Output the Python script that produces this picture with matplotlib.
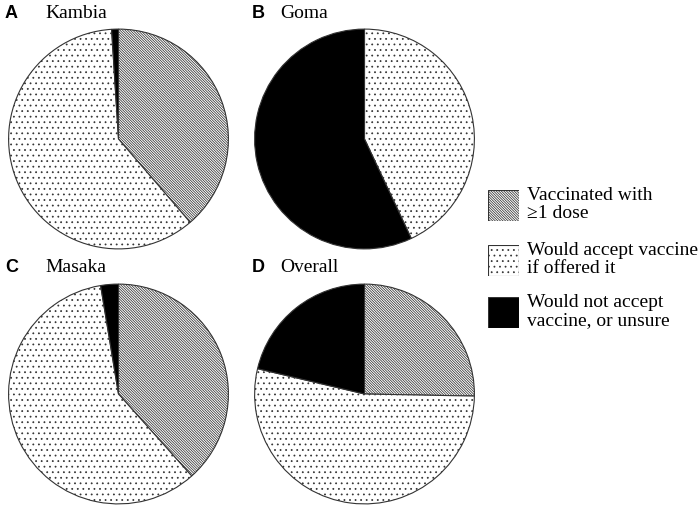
import matplotlib
matplotlib.use("Agg")
import matplotlib.pyplot as plt

plt.rcParams['hatch.linewidth'] = 0.55

categories = ["Vaccinated with\n\u22651 dose",
              "Would accept vaccine\nif offered it",
              "Would not accept\nvaccine, or unsure"]
panel_letters = ["A", "B", "C", "D"]
panel_names = ["Kambia", "Goma", "Masaka", "Overall"]
kambia = [38.7, 60.3, 1.0]
goma = [0.0, 43.0, 57.0]
masaka = [38.4, 59.0, 2.6]
overall = [25.3, 53.4, 21.3]
series = [kambia, goma, masaka, overall]

hatches = ['\\' * 13, '...', None]
faces = ['white', 'white', 'black']

W, H = 700, 511
fig = plt.figure(figsize=(7, 5.11), dpi=100)

centers = [(118.5, 139), (364.5, 139), (118.5, 394), (364.5, 394)]
R = 111
serif = ['Liberation Serif', 'DejaVu Serif']
sans = ['Liberation Sans', 'DejaVu Sans']

for (cx, cy), vals, let, name in zip(centers, series, panel_letters, panel_names):
    ax = fig.add_axes([(cx - R) / W, 1 - (cy + R) / H, 2 * R / W, 2 * R / H])
    wedges, _ = ax.pie(vals, startangle=90, counterclock=False, radius=1,
                       wedgeprops=dict(edgecolor='#333333', linewidth=0.8))
    for w, h, f in zip(wedges, hatches, faces):
        w.set_facecolor(f)
        if h:
            w.set_hatch(h)
    ax.set_xlim(-1.01, 1.01)
    ax.set_ylim(-1.01, 1.01)
    ax.set_aspect('equal')
    ax.axis('off')

label_pos = [(5, 13), (252, 13), (5, 268), (252, 268)]
name_pos = [(45, 13), (280, 13), (45, 268), (280, 268)]
for (lx, ly), (nx, ny), let, name in zip(label_pos, name_pos, panel_letters, panel_names):
    fig.text(lx / W, 1 - ly / H, let, family=sans, fontweight='bold',
             fontsize=13, va='center', ha='left')
    fig.text(nx / W, 1 - ny / H, name, family=serif, fontsize=14,
             va='center', ha='left')

# legend
box_tops = [190, 245, 297]
for top, cat, h, f in zip(box_tops, categories, hatches, faces):
    bax = fig.add_axes([488 / W, 1 - (top + 31) / H, 31 / W, 31 / H])
    bax.add_patch(plt.Rectangle((0, 0), 1, 1, facecolor=f, hatch=h,
                                edgecolor='#333333', linewidth=0.8))
    bax.set_xlim(0, 1)
    bax.set_ylim(0, 1)
    bax.axis('off')
    fig.text(527 / W, 1 - (top - 3) / H, cat, family=serif, fontsize=14,
             va='top', ha='left', linespacing=1.05)

fig.savefig('out.png', dpi=100)
